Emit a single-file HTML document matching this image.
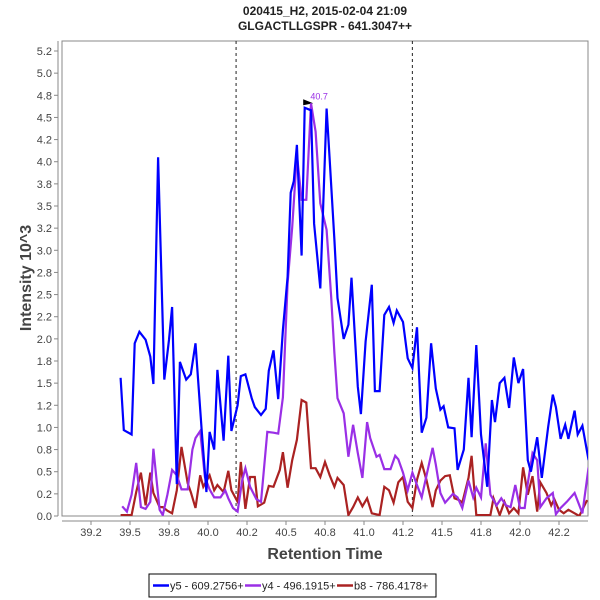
<!DOCTYPE html>
<html><head><meta charset="utf-8"><style>
body{margin:0;background:#fff;}
svg{display:block;font-family:"Liberation Sans",sans-serif;}
</style></head><body>
<svg id="chart" width="600" height="600" viewBox="0 0 600 600">
<text x="325" y="15" text-anchor="middle" font-size="12" font-weight="bold" fill="#222">020415_H2, 2015-02-04 21:09</text>
<text x="325" y="30" text-anchor="middle" font-size="12" font-weight="bold" fill="#222">GLGACTLLGSPR - 641.3047++</text>
<rect x="62" y="41" width="526" height="475" fill="#fff" stroke="#888" stroke-width="1"/>
<g id="axes"></g>
<g id="series" clip-path="url(#clip)"></g>
<defs><clipPath id="clip"><rect x="62" y="41" width="526" height="475"/></clipPath></defs>
<text x="325" y="559" text-anchor="middle" font-size="16" font-weight="bold" fill="#444">Retention Time</text>
<text transform="translate(31,278) rotate(-90)" text-anchor="middle" font-size="16" font-weight="bold" fill="#444">Intensity 10^3</text>
<g>
<rect x="149" y="574" width="287" height="23" fill="#fff" stroke="#000" stroke-width="1"/>
<line x1="153" y1="585.5" x2="169" y2="585.5" stroke="#0000ff" stroke-width="2.5"/>
<text x="170" y="589.5" font-size="11" fill="#222">y5 - 609.2756+</text>
<line x1="245" y1="585.5" x2="261" y2="585.5" stroke="#9a2fe6" stroke-width="2.5"/>
<text x="262" y="589.5" font-size="11" fill="#222">y4 - 496.1915+</text>
<line x1="337" y1="585.5" x2="353" y2="585.5" stroke="#aa2222" stroke-width="2.5"/>
<text x="354" y="589.5" font-size="11" fill="#222">b8 - 786.4178+</text>
</g>
</svg>
<script>
const xTicks=[39.25,39.5,39.75,40.0,40.25,40.5,40.75,41.0,41.25,41.5,41.75,42.0,42.25];
const xTickLabels=["39.2","39.5","39.8","40.0","40.2","40.5","40.8","41.0","41.2","41.5","41.8","42.0","42.2"];
const yTicks=[0,0.25,0.5,0.75,1,1.25,1.5,1.75,2,2.25,2.5,2.75,3,3.25,3.5,3.75,4,4.25,4.5,4.75,5,5.25];
const yTickLabels=["0.0","0.2","0.5","0.8","1.0","1.2","1.5","1.8","2.0","2.2","2.5","2.8","3.0","3.2","3.5","3.8","4.0","4.2","4.5","4.8","5.0","5.2"];
const markerTimes=[40.18,41.31];
const peakTime=40.7, peakValue=4.66, peakLabel="40.7";
const y5Times=[39.44,39.46,39.51,39.53,39.56,39.60,39.63,39.65,39.68,39.72,39.75,39.77,39.80,39.82,39.86,39.89,39.92,39.96,39.99,40.01,40.04,40.06,40.10,40.13,40.15,40.19,40.21,40.24,40.28,40.30,40.34,40.37,40.39,40.42,40.45,40.48,40.51,40.53,40.55,40.57,40.60,40.62,40.66,40.68,40.72,40.76,40.78,40.81,40.83,40.87,40.90,40.92,40.96,40.98,41.01,41.05,41.07,41.10,41.13,41.16,41.19,41.21,41.25,41.28,41.31,41.34,41.37,41.40,41.43,41.46,41.49,41.51,41.54,41.58,41.60,41.64,41.67,41.69,41.72,41.75,41.79,41.82,41.84,41.87,41.90,41.93,41.96,41.99,42.02,42.05,42.07,42.11,42.14,42.18,42.21,42.23,42.26,42.29,42.31,42.35,42.37,42.40,42.44];
const y5Values=[1.56,0.97,0.92,1.95,2.08,1.99,1.80,1.49,4.05,1.54,1.99,2.36,0.36,1.74,1.54,1.60,1.95,0.95,0.27,0.95,0.75,1.65,0.85,1.81,0.96,1.25,1.58,1.60,1.33,1.23,1.14,1.21,1.64,1.87,1.32,2.10,2.70,3.65,3.78,4.19,2.94,4.61,4.58,3.30,2.57,4.60,4.02,3.12,2.46,2.00,2.16,2.69,1.46,1.15,1.97,2.61,1.41,1.41,2.27,2.36,2.18,2.32,2.19,1.78,1.67,2.13,0.94,1.11,1.95,1.44,1.20,1.24,1.00,0.99,0.52,0.75,1.56,0.89,1.93,0.92,0.33,1.31,1.06,1.50,1.56,1.22,1.79,1.50,1.66,0.63,0.50,0.89,0.43,1.00,1.37,1.23,0.87,1.03,0.87,1.19,0.92,1.02,0.63];
const y4Times=[39.45,39.48,39.51,39.54,39.57,39.60,39.63,39.65,39.69,39.71,39.74,39.77,39.80,39.83,39.87,39.90,39.92,39.95,39.98,40.01,40.04,40.08,40.11,40.13,40.16,40.19,40.22,40.24,40.27,40.31,40.34,40.38,40.42,40.45,40.48,40.51,40.54,40.57,40.60,40.63,40.66,40.69,40.72,40.76,40.79,40.81,40.83,40.87,40.90,40.93,40.96,40.99,41.02,41.04,41.08,41.10,41.13,41.17,41.20,41.22,41.25,41.28,41.31,41.34,41.37,41.44,41.46,41.49,41.52,41.57,41.60,41.63,41.67,41.70,41.72,41.75,41.78,41.81,41.85,41.88,41.91,41.94,41.97,42.00,42.03,42.05,42.08,42.11,42.13,42.17,42.21,42.23,42.26,42.30,42.35,42.40,42.44];
const y4Values=[0.11,0.05,0.24,0.60,0.10,0.08,0.16,0.76,0.07,0.01,0.24,0.52,0.46,0.30,0.30,0.75,0.88,0.96,0.44,0.30,0.21,0.21,0.29,0.20,0.09,0.05,0.41,0.54,0.33,0.19,0.16,0.95,0.94,0.93,1.34,2.63,3.26,4.08,3.57,3.57,4.66,4.34,3.53,3.23,2.47,1.84,1.33,1.16,0.67,1.03,0.71,0.43,1.06,0.88,0.67,0.69,0.53,0.53,0.68,0.64,0.49,0.29,0.49,0.35,0.21,0.77,0.58,0.26,0.15,0.25,0.21,0.09,0.40,0.21,0.32,0.21,0.82,0.24,0.12,0.20,0.12,0.10,0.35,0.09,0.09,0.37,0.71,0.63,0.10,0.20,0.26,0.02,0.09,0.16,0.26,0.03,0.55];
const b8Times=[39.44,39.51,39.54,39.57,39.60,39.63,39.65,39.69,39.71,39.74,39.77,39.80,39.83,39.87,39.89,39.92,39.95,39.97,40.01,40.04,40.06,40.10,40.13,40.15,40.19,40.21,40.24,40.27,40.30,40.32,40.36,40.39,40.42,40.46,40.48,40.51,40.54,40.57,40.60,40.63,40.66,40.69,40.72,40.75,40.78,40.81,40.83,40.87,40.90,40.93,40.96,40.99,41.02,41.05,41.10,41.13,41.16,41.19,41.22,41.25,41.28,41.31,41.34,41.37,41.40,41.44,41.46,41.49,41.52,41.55,41.58,41.61,41.63,41.67,41.69,41.72,41.81,41.83,41.87,41.90,41.93,41.96,41.99,42.02,42.05,42.08,42.11,42.13,42.17,42.20,42.22,42.25,42.28,42.31,42.35,42.38,42.43];
const b8Values=[0.01,0.01,0.27,0.49,0.12,0.49,0.26,0.10,0.10,0.06,0.03,0.29,0.78,0.37,0.27,0.09,0.46,0.33,0.46,0.29,0.35,0.27,0.51,0.29,0.16,0.61,0.08,0.44,0.44,0.11,0.15,0.34,0.33,0.52,0.72,0.32,0.63,0.86,1.31,1.28,0.54,0.54,0.44,0.61,0.46,0.33,0.43,0.35,0.01,0.10,0.21,0.11,0.20,0.03,0.01,0.33,0.29,0.15,0.38,0.44,0.16,0.09,0.41,0.60,0.41,0.10,0.29,0.40,0.45,0.46,0.20,0.18,0.15,0.43,0.68,0.01,0.01,0.20,0.01,0.16,0.03,0.09,0.03,0.55,0.24,0.45,0.05,0.38,0.26,0.12,0.19,0.07,0.03,0.07,0.03,0.00,0.18];

const NS="http://www.w3.org/2000/svg";
function xs(t){return 91+(t-39.25)*156;}
function ys(v){return 516-v*88.57;}
const axes=document.getElementById('axes');
const ser=document.getElementById('series');
function mk(tag,attrs,parent){const e=document.createElementNS(NS,tag);for(const k in attrs)e.setAttribute(k,attrs[k]);parent.appendChild(e);return e;}

let xl=mk('line',{x1:62,y1:521,x2:588,y2:521,stroke:'#888'},axes);


let yl=mk('line',{x1:58,y1:41,x2:58,y2:516,stroke:'#888'},axes);


xTicks.forEach((t,i)=>{
  const x=xs(t);
  mk('line',{x1:x,y1:521,x2:x,y2:525,stroke:'#888'},axes);
  const tx=mk('text',{x:x,y:536,'text-anchor':'middle','font-size':'11',fill:'#444'},axes);
  tx.textContent=xTickLabels[i];
  
  
});
yTicks.forEach((v,i)=>{
  const y=ys(v);
  mk('line',{x1:54,y1:y,x2:58,y2:y,stroke:'#888'},axes);
  const tx=mk('text',{x:52,y:y+4,'text-anchor':'end','font-size':'11',fill:'#444'},axes);
  tx.textContent=yTickLabels[i];
  
  
});
markerTimes.forEach(t=>{
  const l=mk('line',{x1:xs(t),y1:41,x2:xs(t),y2:516,stroke:'#222','stroke-dasharray':'3,3','stroke-width':1},ser);
  
  
});
function drawLine(ts,vs,color,name){
  const pts=ts.map((t,i)=>xs(t).toFixed(1)+','+ys(vs[i]).toFixed(1)).join(' ');
  const p=mk('polyline',{points:pts,fill:'none',stroke:color,'stroke-width':2.2,'stroke-linejoin':'miter'},ser);
  
  
}
drawLine(b8Times,b8Values,'#aa2222','series-b8');
drawLine(y4Times,y4Values,'#9a2fe6','series-y4');
drawLine(y5Times,y5Values,'#0000ff','series-y5');
const px=xs(peakTime), py=ys(peakValue);
const tri=mk('polygon',{points:(px-14)+','+(py-4)+' '+(px-4)+','+(py)+' '+(px-14)+','+(py+2),fill:'#000'},axes);


const pl=mk('text',{x:px+2,y:py-4,'text-anchor':'middle','font-size':'9',fill:'#9a2fe6'},axes);
pl.textContent=peakLabel;


</script>
</body></html>
